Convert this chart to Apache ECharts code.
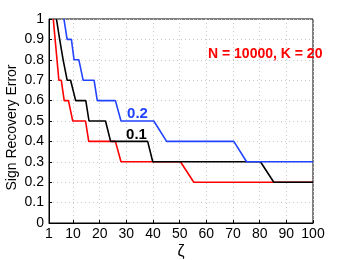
<!DOCTYPE html>
<html>
<head>
<meta charset="utf-8">
<script src="https://cdn.jsdelivr.net/npm/echarts@6/dist/echarts.min.js"></script>
<style>html,body{margin:0;padding:0;background:#fff}#c{width:346px;height:260px}</style>
</head>
<body>
<div id="c"></div>
<script>
// zeta values and error values for each curve
const blueZeta  = [6.6, 7.8, 9.4, 10.4, 12.2, 13.8, 17.9, 19.1, 25.9, 28.0, 40.3, 45.1, 70.3, 75.1, 100];
const blueErr   = [1.0, 0.9, 0.9, 0.8,  0.8,  0.7,  0.7,  0.6,  0.6,  0.5,  0.5,  0.4,  0.4,  0.3,  0.3];
const blackZeta = [3.8, 5.0, 5.5, 6.3, 6.9, 7.8, 9.1, 11.0, 14.8, 16.0, 22.2, 24.1, 38.0, 39.9, 80.3, 85.3, 100];
const blackErr  = [1.0, 0.9, 0.9, 0.8, 0.8, 0.7, 0.7, 0.6,  0.6,  0.5,  0.5,  0.4,  0.4,  0.3,  0.3,  0.2,  0.2];
const redZeta   = [2.6, 3.3, 4.0, 4.7, 5.6, 6.7, 8.3, 9.9, 14.7, 15.9, 25.9, 28.0, 50.3, 55.3, 100];
const redErr    = [1.0, 0.9, 0.8, 0.7, 0.7, 0.6, 0.6, 0.5, 0.5,  0.4,  0.4,  0.3,  0.3,  0.2,  0.2];
const xTicks = [1, 10, 20, 30, 40, 50, 60, 70, 80, 90, 100];
const curveLabels = ['0.2', '0.1'];
const labelPos = [[34.2, 0.535], [33.8, 0.432]];
const annotation = 'N = 10000, K = 20';

const zip = (xs, ys) => xs.map((x, i) => [x, ys[i]]);
const font = 'Liberation Sans, Arial, Helvetica, sans-serif';
const chart = echarts.init(document.getElementById('c'), null, {renderer: 'canvas'});
chart.setOption({
  animation: false,
  backgroundColor: '#fff',
  title: {
    text: annotation, left: 203, top: 42,
    textStyle: {color: '#ff0000', fontSize: 14, fontWeight: 'bold', fontFamily: font}
  },
  grid: {left: 49, right: 33, top: 19, bottom: 37, outerBoundsMode: 'none', containLabel: false,
    show: true, borderColor: '#000', borderWidth: 1, backgroundColor: 'transparent'},
  xAxis: {
    type: 'value', min: 1, max: 100,
    name: 'ζ', nameLocation: 'middle', nameGap: 21, nameMoveOverlap: false,
    nameTextStyle: {fontSize: 16, color: '#000', fontFamily: font},
    axisLine: {show: true, lineStyle: {color: '#000', width: 1}},
    axisTick: {show: true, inside: true, length: 3, customValues: xTicks, lineStyle: {color: '#000'}},
    axisLabel: {customValues: xTicks, fontSize: 14, color: '#000', fontFamily: font, margin: 4},
    splitLine: {show: true, lineStyle: {color: '#c8c8c8', type: [1, 3], width: 1}}
  },
  yAxis: {
    type: 'value', min: 0, max: 1, interval: 0.1,
    name: 'Sign Recovery Error', nameLocation: 'middle', nameGap: 30, nameRotate: 90, nameMoveOverlap: false,
    nameTextStyle: {fontSize: 14, color: '#000', fontFamily: font, padding: [0, 13, 0, 0]},
    axisLine: {show: true, lineStyle: {color: '#000', width: 1}},
    axisTick: {show: true, inside: true, length: 3, lineStyle: {color: '#000'}},
    axisLabel: {fontSize: 14, color: '#000', fontFamily: font, margin: 5},
    splitLine: {show: true, lineStyle: {color: '#c8c8c8', type: [1, 3], width: 1}}
  },
  series: [
    {type: 'line', data: zip(redZeta, redErr), symbol: 'none', lineStyle: {color: '#ff0000', width: 1.6}, z: 3},
    {type: 'line', data: zip(blackZeta, blackErr), symbol: 'none', lineStyle: {color: '#000000', width: 1.6}, z: 4,
      markPoint: {symbol: 'circle', symbolSize: 0, silent: true,
        data: [{coord: labelPos[1], value: curveLabels[1]}],
        label: {show: true, position: 'inside', formatter: curveLabels[1], color: '#000', fontSize: 15, fontWeight: 'bold', fontFamily: font}}},
    {type: 'line', data: zip(blueZeta, blueErr), symbol: 'none', lineStyle: {color: '#2244ff', width: 1.6}, z: 5,
      markPoint: {symbol: 'circle', symbolSize: 0, silent: true,
        data: [{coord: labelPos[0], value: curveLabels[0]}],
        label: {show: true, position: 'inside', formatter: curveLabels[0], color: '#2244ff', fontSize: 15, fontWeight: 'bold', fontFamily: font}}}
  ]
});
</script>
</body>
</html>
